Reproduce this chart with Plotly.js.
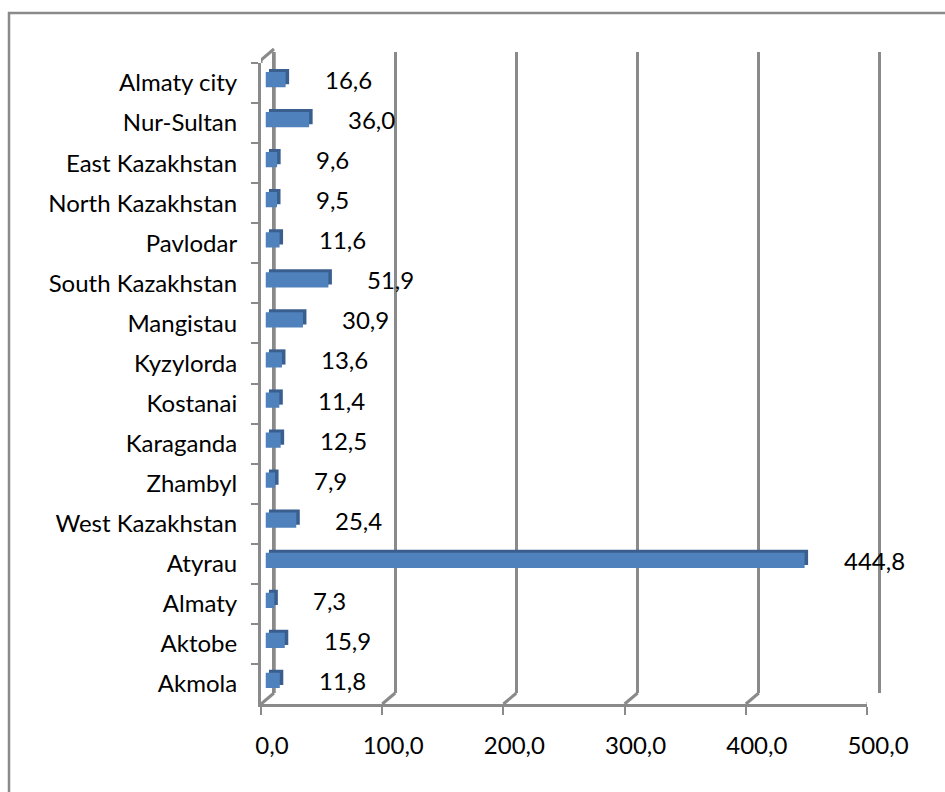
<!DOCTYPE html>
<html>
<head>
<meta charset="utf-8">
<script src="https://cdn.plot.ly/plotly-3.0.1.min.js"></script>
<style>html,body{margin:0;padding:0;background:#fff;}#chart{width:945px;height:792px;}</style>
</head>
<body>
<div id="chart"></div>
<script>
// ---- data ----
const regions = ["Akmola","Aktobe","Almaty","Atyrau","West Kazakhstan","Zhambyl","Karaganda","Kostanai","Kyzylorda","Mangistau","South Kazakhstan","Pavlodar","North Kazakhstan","East Kazakhstan","Nur-Sultan","Almaty city"];
const values = [11.8,15.9,7.3,444.8,25.4,7.9,12.5,11.4,13.6,30.9,51.9,11.6,9.5,9.6,36.0,16.6];
const valueLabels = ["11,8","15,9","7,3","444,8","25,4","7,9","12,5","11,4","13,6","30,9","51,9","11,6","9,5","9,6","36,0","16,6"];
const xTickVals = [0,100,200,300,400,500];
const xTickText = ["0,0","100,0","200,0","300,0","400,0","500,0"];

// ---- geometry (pixels) ----
const W = 945, H = 792;
const front = {l:261, r:867, t:63, b:704};
const back = {dx:13, dy:11};
const barDepth = {dx:4.5, dy:3.5};
const shade = {dx:3.5, dy:3};
const gray = "#8a8a8a";
const font = "Lato, 'Open Sans', sans-serif";
const fs = 24;
const xMax = 500;
const pxPerUnit = (front.r - front.l) / xMax;

function xd(dx, padPx){ padPx = padPx || 0; return [(front.l+dx-padPx)/W, (front.r+dx+padPx)/W]; }
function yd(dy){ return [1-(front.b-dy)/H, 1-(front.t-dy)/H]; }

const catAxisHidden = {type:"category", categoryarray:regions, categoryorder:"array", range:[-0.5,15.5], showticklabels:false, showgrid:false, zeroline:false, showline:false, ticks:""};
const valAxisHidden = {range:[0,xMax], showticklabels:false, showgrid:false, zeroline:false, showline:false, ticks:""};
const wallPadUnits = 2; // extend wall range slightly so edge gridlines are drawn
const wallRange = [0, 1]; // hidden linear vertical scale of the back wall

const traces = [
  // back-left edge of the wall (value 0 on the back plane), spanning the full wall height
  {type:"scatter", mode:"lines", x:[xTickVals[0], xTickVals[0]], y:wallRange, xaxis:"x2", yaxis:"y2",
   line:{color:gray, width:3}, cliponaxis:false, hoverinfo:"skip"},
  // dark side/top faces
  {type:"bar", orientation:"h", x:values, y:regions, xaxis:"x3", yaxis:"y3", width:0.38,
   marker:{color:"#3a5f8f", line:{width:0}}, hoverinfo:"skip"},
  // front faces
  {type:"bar", orientation:"h", x:values, y:regions, xaxis:"x4", yaxis:"y4", width:0.38,
   marker:{color:"#4f81bd", line:{width:0}}, hoverinfo:"x+y"}
];

const wallX = (front.l + back.dx) / W;
const shapes = [
  // outer chart border (left + top visible)
  {type:"rect", xref:"paper", yref:"paper", x0:9/W, x1:1.05, y0:-0.05, y1:1-13/H,
   line:{color:gray, width:2.5}, layer:"below"},
  // back-left edge of the wall, in the lowest drawing layer (behind the bars)
  {type:"line", xref:"paper", yref:"paper", x0:wallX, x1:wallX, y0:yd(back.dy)[0], y1:yd(back.dy)[1],
   line:{color:gray, width:3}, layer:"below"}
];
// floor diagonals from front ticks to back wall
xTickVals.forEach(v => {
  shapes.push({type:"line", xref:"x", yref:"y domain", xsizemode:"pixel", ysizemode:"pixel",
    xanchor:v, yanchor:0, x0:0, x1:back.dx, y0:0, y1:back.dy, line:{color:gray, width:3}});
});
// top-left diagonal of the side wall
shapes.push({type:"line", xref:"x", yref:"y domain", xsizemode:"pixel", ysizemode:"pixel",
  xanchor:0, yanchor:1, x0:0, x1:back.dx, y0:3, y1:back.dy+3, line:{color:gray, width:3}});
shapes.push({type:"line", xref:"x", yref:"y domain", xsizemode:"pixel", ysizemode:"pixel",
  xanchor:0, yanchor:1, x0:0, x1:0, y0:0, y1:4, line:{color:gray, width:3}});

const annotations = values.map((v,i) => ({
  x:v, y:regions[i], xref:"x4", yref:"y4", text:valueLabels[i], showarrow:false,
  xanchor:"left", yanchor:"middle", xshift:37, font:{family:font, size:fs, color:"#000"}
}));

const layout = {
  width:W, height:H, margin:{l:0,r:0,t:0,b:0}, paper_bgcolor:"#fff", plot_bgcolor:"rgba(0,0,0,0)",
  showlegend:false, barmode:"overlay", font:{family:font, size:fs, color:"#000"},
  xaxis:{domain:xd(0), range:[0,xMax], tickvals:xTickVals, ticktext:xTickText, showgrid:false, zeroline:false,
    showline:true, linecolor:gray, linewidth:3, ticks:"outside", ticklen:8, tickwidth:2, tickcolor:gray,
    ticklabelstandoff:10, ticklabelshift:11, tickfont:{family:font, size:fs, color:"#000"}, anchor:"y"},
  yaxis:{domain:yd(0), type:"category", categoryarray:regions, categoryorder:"array", range:[-0.5,15.5],
    showgrid:false, zeroline:false, showline:true, linecolor:gray, linewidth:3, ticks:"outside", tickson:"boundaries",
    ticklen:7, tickwidth:2, tickcolor:gray, ticklabelstandoff:16, tickfont:{family:font, size:fs, color:"#000"}, anchor:"x"},
  // back wall
  xaxis2:Object.assign({}, valAxisHidden, {domain:xd(back.dx, wallPadUnits*pxPerUnit), range:[-wallPadUnits, xMax+wallPadUnits],
    anchor:"y2", showgrid:true, gridcolor:gray, gridwidth:3, tickvals:xTickVals}),
  yaxis2:{domain:yd(back.dy), range:wallRange, anchor:"x2", showticklabels:false, showgrid:false, zeroline:false, showline:false, ticks:""},
  // bar shading plane
  xaxis3:Object.assign({}, valAxisHidden, {domain:xd(barDepth.dx+shade.dx), anchor:"y3"}),
  yaxis3:Object.assign({}, catAxisHidden, {domain:yd(barDepth.dy+shade.dy), anchor:"x3"}),
  // bar front plane
  xaxis4:Object.assign({}, valAxisHidden, {domain:xd(barDepth.dx), anchor:"y4"}),
  yaxis4:Object.assign({}, catAxisHidden, {domain:yd(barDepth.dy), anchor:"x4"}),
  shapes:shapes, annotations:annotations
};

Plotly.newPlot("chart", traces, layout, {displayModeBar:false, staticPlot:true});
</script>
</body>
</html>
